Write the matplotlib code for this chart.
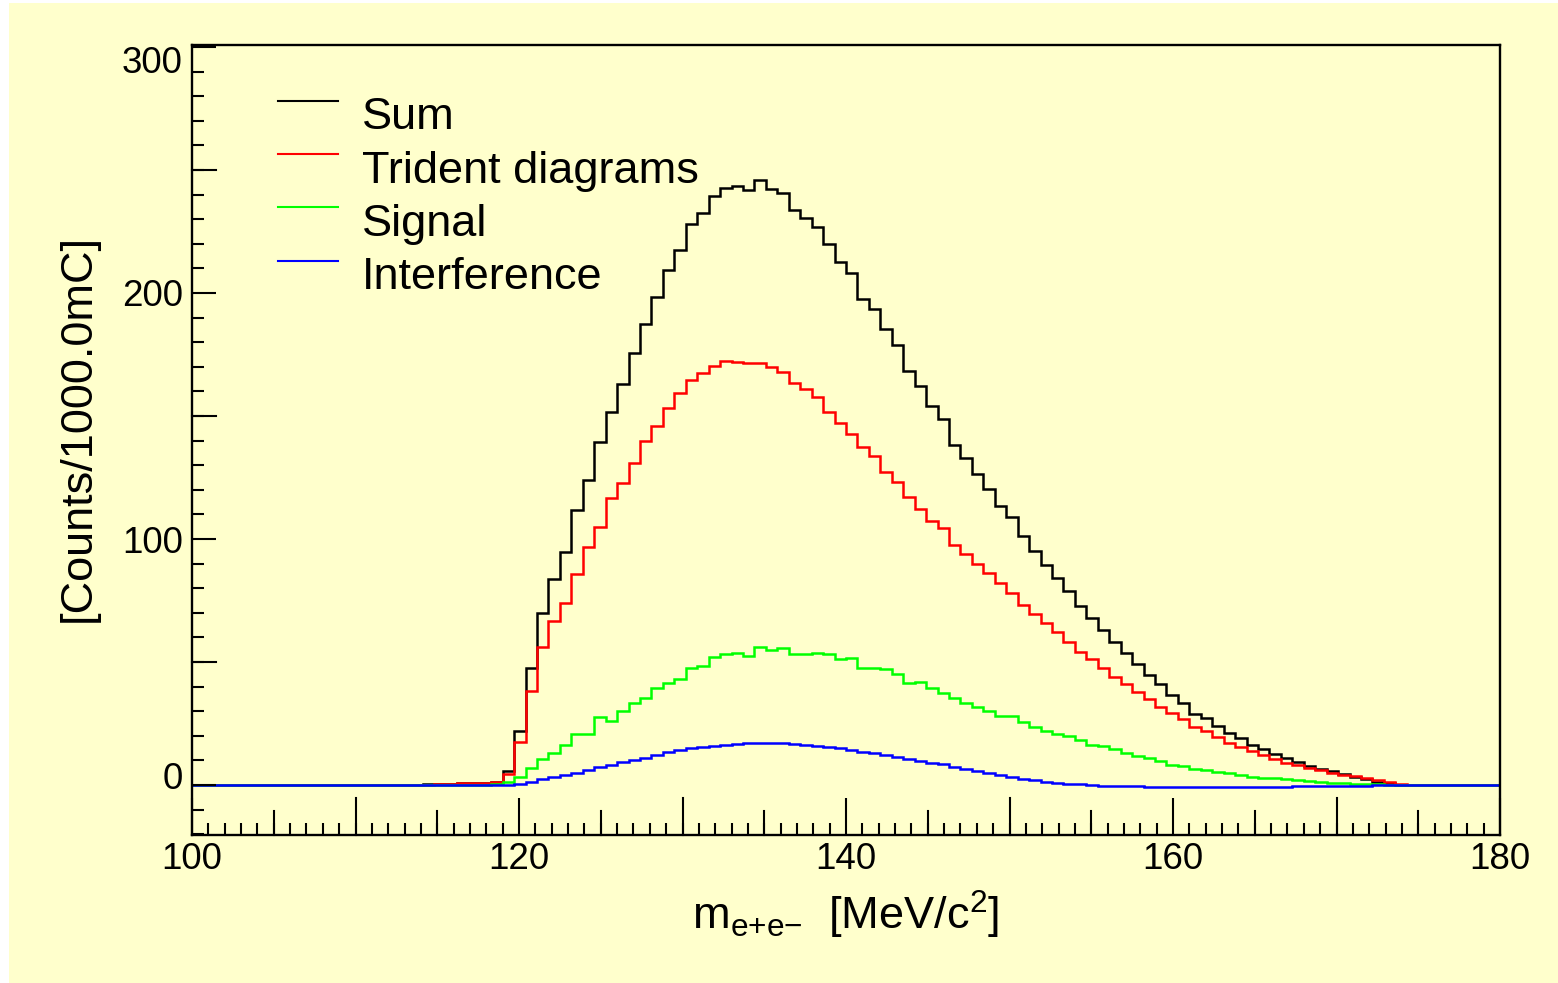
import numpy as np
import matplotlib
matplotlib.use("Agg")
import matplotlib.pyplot as plt
from matplotlib.ticker import MultipleLocator, FixedLocator
from matplotlib.transforms import ScaledTranslation
from matplotlib.patches import Rectangle
from matplotlib.lines import Line2D

plt.rcParams['font.family'] = ['Liberation Sans', 'DejaVu Sans']
plt.rcParams['mathtext.fontset'] = 'custom'
plt.rcParams['mathtext.rm'] = 'Liberation Sans'
plt.rcParams['mathtext.it'] = 'Liberation Sans'

# ---- data: histograms with 0.7 MeV bins, bin index k covers [0.7k, 0.7(k+1)) ----
BIN_WIDTH = 0.7
FIRST_BIN = 142      # first bin drawn (99.4 MeV)
LAST_BIN = 257       # last bin drawn (179.9 MeV)
DATA_FIRST_BIN = 160 # first bin of the value lists below (112.0 MeV)

sum_vals = [0.1, 0.1, 0.2, 0.3, 0.4, 0.6, 0.8, 1.0, 1.0, 1.2,
            5.7, 22.0, 47.4, 69.8, 83.6, 94.8, 111.8, 124.0, 139.6, 151.8,
            163.0, 175.5, 187.3, 198.5, 209.3, 217.5, 228.0, 232.7, 239.6, 242.6,
            243.5, 241.9, 245.8, 242.3, 240.5, 233.9, 230.4, 226.9, 220.0, 212.4,
            208.0, 197.7, 193.3, 185.4, 178.9, 168.2, 162.2, 154.2, 148.7, 138.2,
            132.8, 126.3, 120.2, 113.3, 108.8, 101.3, 95.1, 89.5, 84.0, 78.9,
            72.8, 67.8, 63.0, 58.3, 53.5, 49.2, 44.7, 41.1, 36.6, 33.5,
            28.7, 27.4, 24.0, 21.3, 19.0, 16.3, 14.5, 12.5, 10.9, 9.5,
            7.9, 6.4, 5.7, 4.3, 3.4, 2.4, 1.3, 0.7, 0.2]

trident_vals = [0.1, 0.1, 0.2, 0.2, 0.3, 0.5, 0.7, 0.8, 0.9, 1.1,
                4.3, 17.6, 38.2, 56.0, 66.7, 74.1, 85.8, 96.6, 104.7, 116.5,
                122.6, 131.0, 139.8, 146.1, 153.4, 159.2, 164.6, 167.6, 170.5, 172.4,
                171.8, 171.7, 171.4, 170.0, 168.0, 163.5, 161.0, 157.8, 151.5, 147.0,
                142.7, 137.5, 133.9, 127.1, 123.3, 117.2, 112.1, 107.4, 104.3, 97.6,
                93.8, 89.7, 86.0, 82.0, 77.9, 73.2, 69.4, 66.0, 62.3, 58.0,
                53.9, 51.2, 47.4, 44.0, 41.1, 37.9, 35.0, 31.8, 29.4, 26.7,
                23.7, 22.1, 19.6, 17.2, 15.6, 13.9, 12.2, 10.6, 8.8, 8.1,
                6.8, 6.1, 5.0, 4.1, 3.7, 2.7, 2.0, 1.1, 0.3]

signal_vals = [0.0, 0.0, 0.0, 0.0, 0.0, 0.0, 0.0, 0.0, 0.1, 0.3,
               1.4, 3.1, 6.8, 10.4, 13.1, 16.3, 20.7, 20.7, 27.5, 26.1,
               30.2, 33.2, 35.2, 39.3, 41.6, 43.0, 47.4, 48.4, 52.2, 53.1,
               53.8, 52.6, 56.2, 54.9, 55.6, 53.3, 53.1, 53.5, 53.3, 51.1,
               51.8, 47.4, 47.4, 47.0, 45.0, 41.6, 41.7, 39.3, 37.3, 35.2,
               33.5, 31.8, 30.1, 28.0, 28.2, 25.7, 23.7, 22.1, 20.6, 19.9,
               18.3, 16.3, 15.9, 14.6, 13.1, 11.9, 10.8, 9.9, 8.1, 7.7,
               6.4, 6.1, 5.2, 4.8, 4.1, 3.4, 3.0, 2.7, 2.3, 2.0,
               1.6, 1.2, 0.9, 0.7, 0.5, 0.4, 0.3, 0.2, 0.1]

interference_vals = [0.0, 0.0, 0.0, 0.0, 0.0, 0.0, 0.0, 0.0, 0.0, 0.0,
                     0.0, 0.4, 1.4, 2.3, 3.1, 4.1, 5.0, 6.1, 7.2, 8.1,
                     9.2, 10.2, 11.2, 12.2, 13.3, 14.2, 14.9, 15.3, 16.0, 16.3,
                     16.7, 16.9, 17.2, 17.2, 16.9, 16.7, 16.3, 15.9, 15.3, 14.9,
                     14.2, 13.6, 12.9, 12.2, 11.5, 10.6, 9.8, 9.1, 8.4, 7.5,
                     6.5, 5.7, 4.7, 4.0, 3.1, 2.4, 1.9, 1.4, 1.0, 0.6,
                     0.3, 0.0, -0.2, -0.3, -0.4, -0.5, -0.6, -0.7, -0.7, -0.8,
                     -0.8, -0.8, -0.8, -0.8, -0.8, -0.7, -0.7, -0.6, -0.6, -0.5,
                     -0.5, -0.4, -0.3, -0.3, -0.2, -0.2, -0.1, -0.1, 0.0]

labels = ['Sum', 'Trident diagrams', 'Signal', 'Interference']
colors = ['#000000', '#ff0000', '#00ff00', '#0000ff']
series = [sum_vals, trident_vals, signal_vals, interference_vals]

x_label = r'$\mathregular{m_{e{+}e{-}}}$  [MeV/c$^{\mathregular{2}}$]'
y_label = '[Counts/1000.0mC]'

edges = BIN_WIDTH * np.arange(FIRST_BIN, LAST_BIN + 2)
n_bins = len(edges) - 1


def full(vals):
    arr = np.zeros(n_bins)
    start = DATA_FIRST_BIN - FIRST_BIN
    arr[start:start + len(vals)] = vals
    return arr


BG = '#ffffcc'
W, H = 1558, 983
fig = plt.figure(figsize=(W / 100, H / 100), dpi=100, facecolor='white')
fig.patches.append(Rectangle((9 / W, 0), 1 - 9 / W, 1 - 3 / H, transform=fig.transFigure,
                             facecolor=BG, edgecolor='none', zorder=-10))

L, R, T, B = 192, 1500, 45, 835
ax = fig.add_axes([L / W, 1 - B / H, (R - L) / W, (B - T) / H])
ax.set_facecolor(BG)

for vals, c in zip(series, colors):
    ax.stairs(full(vals), edges, color=c, linewidth=1.8, baseline=None)

ax.set_xlim(100, 180)
ax.set_ylim(-20.3, 300.8)

for s in ax.spines.values():
    s.set_linewidth(1.7)

PX = 0.72  # points per pixel at 100 dpi
ax.xaxis.set_major_locator(MultipleLocator(20))
ax.xaxis.set_minor_locator(MultipleLocator(1))
ax.yaxis.set_major_locator(FixedLocator([0, 100, 200, 300]))
ax.yaxis.set_minor_locator(MultipleLocator(10))
ax.tick_params(which='both', direction='in', top=False, right=False, width=1.5,
               labelsize=26.5)
ax.tick_params(axis='x', which='major', length=37 * PX, pad=5)
ax.tick_params(axis='x', which='minor', length=12 * PX)
ax.tick_params(axis='y', which='major', length=24 * PX, pad=6.5)
ax.tick_params(axis='y', which='minor', length=12 * PX)

# intermediate x ticks (10 MeV long, 5 MeV medium)
for xv in np.arange(105, 180, 5):
    if xv % 20 == 0:
        continue
    tick_len = 37 if xv % 10 == 0 else 24
    ax.plot([xv, xv], [0, tick_len / (B - T)], transform=ax.get_xaxis_transform(),
            color='black', linewidth=1.5, clip_on=False)
# intermediate y ticks every 50
for yv in [50, 150, 250]:
    ax.plot([0, 24 / (R - L)], [yv, yv], transform=ax.get_yaxis_transform(),
            color='black', linewidth=1.5, clip_on=False)

# ROOT-style shifting of the first/last y labels
ylabs = ax.get_yticklabels()
shifts = {0: 10, 300: -13}
for lab, v in zip(ylabs, [0, 100, 200, 300]):
    dy = shifts.get(v, 0)
    if dy:
        lab.set_transform(lab.get_transform() + ScaledTranslation(0, dy / 100, fig.dpi_scale_trans))

ax.set_xlabel(x_label, fontsize=32.5)
ax.xaxis.set_label_coords((846 - L) / (R - L), -(915 - B) / (B - T))
ax.xaxis.label.set_va('center')
ax.set_ylabel(y_label, fontsize=32.5)
ax.yaxis.set_label_coords((78 - L) / (R - L), (B - 428) / (B - T))
ax.yaxis.label.set_va('center')

# legend (ROOT TLegend style, no frame)
line_y = [100.7, 154.0, 207.3, 260.7]
for lab, c, ly in zip(labels, colors, line_y):
    fig.add_artist(Line2D([278 / W, 338 / W], [1 - ly / H, 1 - ly / H],
                          transform=fig.transFigure, color=c, linewidth=1.5))
    fig.text(362 / W, 1 - (ly + 28.5) / H, lab, fontsize=32.5, va='baseline', ha='left')

fig.savefig('out.png', dpi=100, facecolor=fig.get_facecolor())
